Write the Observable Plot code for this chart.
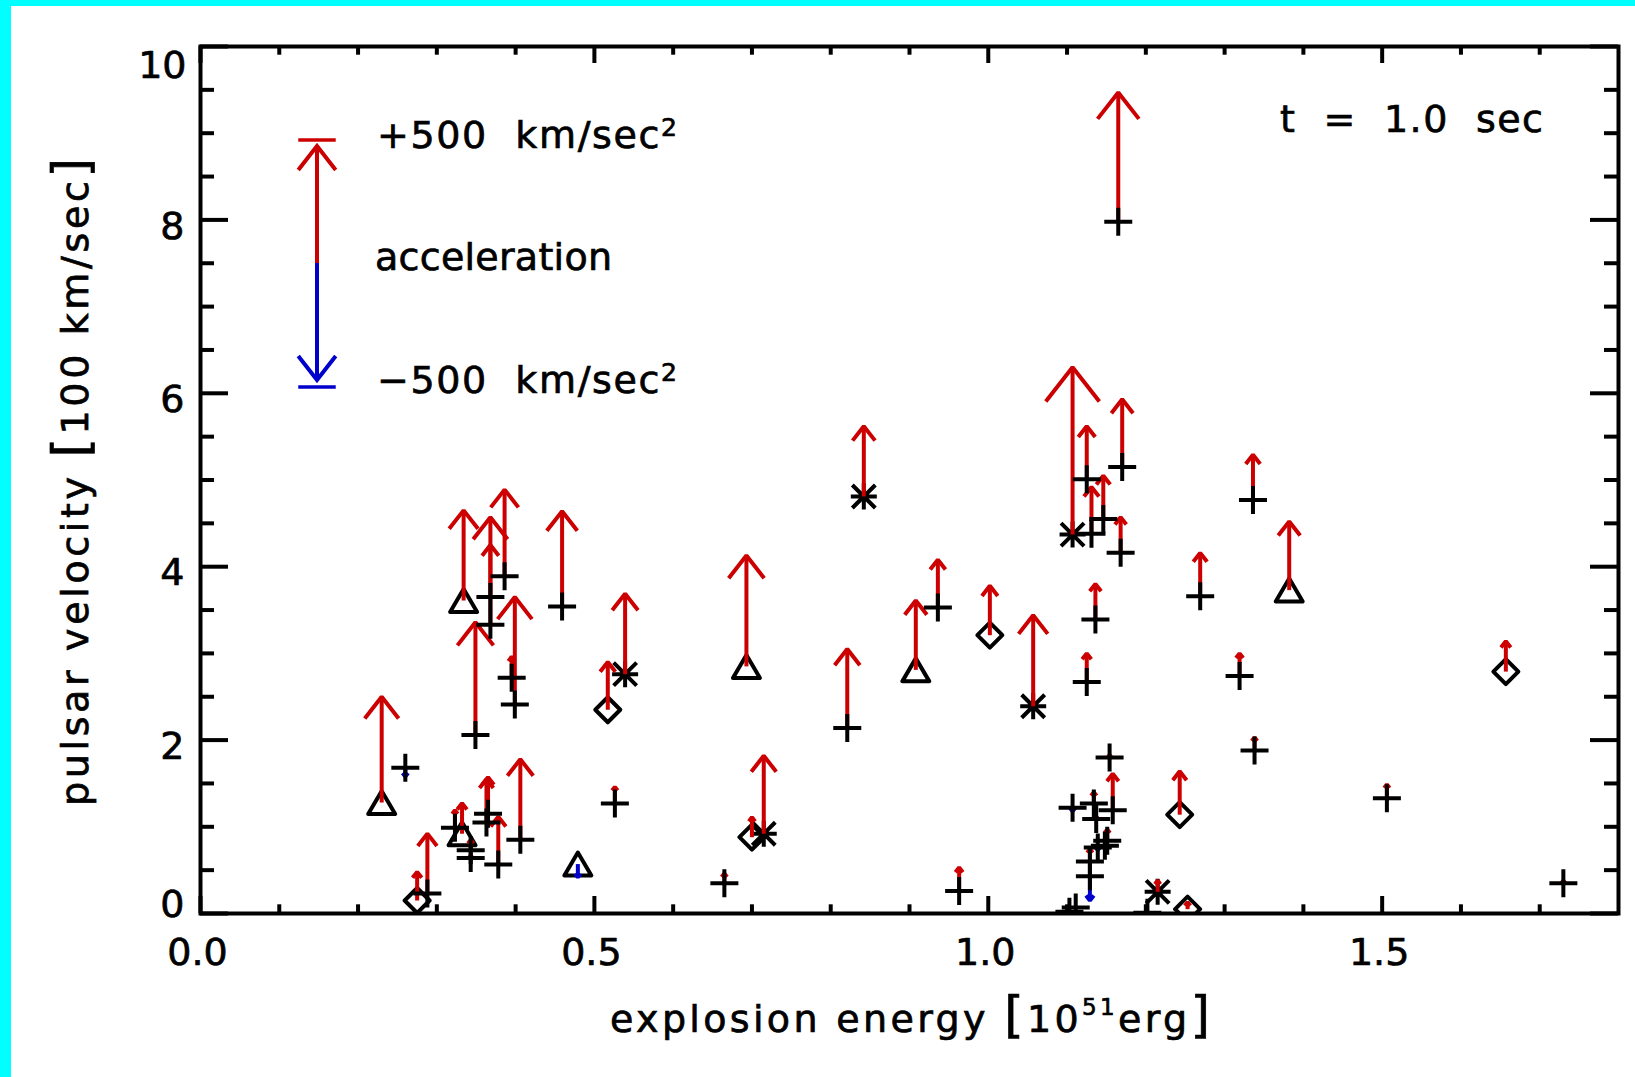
<!DOCTYPE html>
<html>
<head>
<meta charset="utf-8">
<script src="https://cdn.jsdelivr.net/npm/d3@7"></script>
<script src="https://cdn.jsdelivr.net/npm/@observablehq/plot@0.6"></script>
<style>
html, body { margin: 0; padding: 0; background: #fff; }
#wrap { position: relative; width: 1635px; height: 1077px; overflow: hidden; background: #fff; }
#wrap svg { position: absolute; left: 0; top: 0; }
.cy { position: absolute; background: #00ffff; }
text { white-space: pre; }
</style>
</head>
<body>
<div id="wrap"></div>
<script>
// ---------------- data ----------------
// explosion energy [1e51 erg], pulsar velocity [100 km/s], acceleration [km/s^2]
const triE = [0.230, 0.334, 0.332, 0.479, 0.693, 0.908, 1.382];
const triV = [1.28, 3.61, 0.92, 0.57, 2.85, 2.81, 3.73];
const triA = [452, 385, 130, -56, 474, 296, 293];

const diaE = [0.275, 0.517, 0.700, 1.002, 1.243, 1.253, 1.657];
const diaV = [0.15, 2.35, 0.88, 3.21, 1.14, 0.05, 2.79];
const diaA = [122, 204, 85, 211, 185, 30, 130];

const astE = [0.539, 0.715, 0.842, 1.057, 1.107, 1.215];
const astV = [2.76, 0.92, 4.81, 2.39, 4.37, 0.25];
const astA = [344, 333, 300, 389, 715, 48];

const plusE = [0.260, 0.288, 0.323, 0.343, 0.343, 0.349, 0.368, 0.368, 0.386, 0.363,
               0.365, 0.378, 0.406, 0.395, 0.399, 0.459, 0.526, 0.665, 0.821, 0.936,
               0.963, 1.165, 1.125, 1.131, 1.146, 1.170, 1.168, 1.136, 1.125, 1.269,
               1.336, 1.319, 1.338, 1.506, 1.730, 1.154, 1.158, 1.107, 1.134, 1.137,
               1.151, 1.148, 1.139, 1.129, 1.129, 1.111, 1.103, 1.202];
const plusV = [1.68, 0.23, 0.99, 0.73, 0.64, 2.06, 3.65, 3.33, 3.89, 1.05,
               1.15, 0.565, 0.85, 2.72, 2.41, 3.54, 1.27, 0.35, 2.14, 3.53,
               0.26, 7.98, 5.01, 4.38, 4.55, 5.15, 4.16, 3.39, 2.67, 3.66,
               4.77, 2.74, 1.88, 1.33, 0.35, 1.80, 1.19, 1.22, 1.27, 1.09,
               0.84, 0.78, 0.76, 0.60, 0.43, 0.07, 0.02, 0.01];
const plusA = [-37, 256, 74, 44, 11, 481, 222, 459, 370, 185,
               156, 204, 344, 89, 459, 407, 70, 41, 337, 204,
               100, 552, 226, 200, 185, 289, 152, 152, 122, 185,
               193, 96, 56, 59, 11, 11, 156, -15, 48, 11,
               48, 7, -11, 52, -104, 0, 0, 0];

const xDomain = [0, 1.8];
const yDomain = [0, 10];
const xMajor = [0, 0.5, 1.0, 1.5];
const xTickLabels = ["0.0", "0.5", "1.0", "1.5"];
const xMinor = [0.1,0.2,0.3,0.4,0.6,0.7,0.8,0.9,1.1,1.2,1.3,1.4,1.6,1.7];
const yMajor = [0, 2, 4, 6, 8, 10];
const yTickLabels = ["0", "2", "4", "6", "8", "10"];
const yMinor = [0.5,1,1.5,2.5,3,3.5,4.5,5,5.5,6.5,7,7.5,8.5,9,9.5];

const ACC_REF = 500;    // km/s^2 shown by the legend arrow
const ACC_LEN = 1.35;   // velocity units that 500 km/s^2 spans

// ---------------- layout ----------------
const W = 1635, H = 1077, mL = 200, mR = 17, mT = 46, mB = 164;
const pw = W - mL - mR, ph = H - mT - mB;
const kx = pw / (xDomain[1] - xDomain[0]);
const ky = ph / (yDomain[1] - yDomain[0]);
const RED = "#cc0000", BLUE = "#0000cc";
const FONT = "DejaVu Sans";
const HEAD = 0.26, ANG = 38 * Math.PI / 180, MINWING = 4.5;
const SW = 4;
const TXT_STROKE = 0.7;

const rows = (E, V, A) => E.map((e, i) => ({e, v: V[i], a: A[i]}));
const tri = rows(triE, triV, triA);
const dia = rows(diaE, diaV, diaA);
const ast = rows(astE, astV, astA);
const plus = rows(plusE, plusV, plusA);
const all = [...tri, ...dia, ...ast, ...plus];

const dvOf = d => d.a / ACC_REF * ACC_LEN;
const tipOf = d => d.v + dvOf(d);

function heads(list) {
  const out = [];
  list.forEach((d, k) => {
    const dv = dvOf(d), t = d.v + dv;
    const L = Math.max(MINWING, HEAD * Math.abs(dv) * ky);
    const dx = L * Math.sin(ANG) / kx, dy = Math.sign(dv) * L * Math.cos(ANG) / ky;
    out.push({id: k, e: d.e - dx, v: t - dy}, {id: k, e: d.e, v: t}, {id: k, e: d.e + dx, v: t - dy});
  });
  return out;
}
const pos = all.filter(d => d.a > 0);
const neg = all.filter(d => d.a < 0);

// symbols (IDL-like)
const sc = s => Math.sqrt(s / Math.PI) / 13;
const symPlus = {draw(c, s) { const k = sc(s), r = 14 * k; c.moveTo(-r, 0); c.lineTo(r, 0); c.moveTo(0, -r); c.lineTo(0, r); }};
const symTri = {draw(c, s) { const k = sc(s), w = 13.5 * k, h = 11.5 * k; c.moveTo(0, -h); c.lineTo(w, h); c.lineTo(-w, h); c.closePath(); }};
const symDia = {draw(c, s) { const k = sc(s), r = 12.5 * k; c.moveTo(0, -r); c.lineTo(r, 0); c.lineTo(0, r); c.lineTo(-r, 0); c.closePath(); }};
const symAst = {draw(c, s) { const k = sc(s), r = 13 * k, q = 11.5 * k;
  c.moveTo(-r, 0); c.lineTo(r, 0); c.moveTo(0, -r); c.lineTo(0, r);
  c.moveTo(-q, -q); c.lineTo(q, q); c.moveTo(-q, q); c.lineTo(q, -q); }};

const dotOpts = sym => ({x: "e", y: "v", symbol: sym, r: 13, stroke: "black", strokeWidth: SW, fill: "none", clip: true});
const arrowMarks = (list, col) => [
  Plot.link(list, {x1: "e", y1: "v", x2: "e", y2: tipOf, stroke: col, strokeWidth: SW, strokeLinecap: "butt"}),
  Plot.line(heads(list), {x: "e", y: "v", z: "id", stroke: col, strokeWidth: SW, strokeLinecap: "butt", strokeLinejoin: "miter", curve: "linear"})
];
const lbl = {fontSize: 38, fill: "black", fontFamily: FONT, stroke: "black", strokeWidth: TXT_STROKE};

const chart = Plot.plot({
  width: W, height: H,
  marginLeft: mL, marginRight: mR, marginTop: mT, marginBottom: mB,
  style: {fontFamily: FONT, background: "transparent", overflow: "visible"},
  x: {domain: xDomain, axis: null},
  y: {domain: yDomain, axis: null},
  marks: [
    Plot.dot(tri, {...dotOpts(symTri), strokeLinejoin: "round"}),
    Plot.dot(dia, {...dotOpts(symDia), strokeLinejoin: "round"}),
    Plot.dot(ast, {...dotOpts(symAst), strokeLinecap: "butt"}),
    ...arrowMarks(pos, RED),
    ...arrowMarks(neg, BLUE),
    Plot.dot(plus, {...dotOpts(symPlus), strokeLinecap: "butt"}),
    // frame and inward ticks on all four sides
    Plot.frame({stroke: "black", strokeWidth: SW}),
    Plot.tickX(xMinor, {x: d => d, insetTop: ph - 8.7, stroke: "black", strokeWidth: SW}),
    Plot.tickX(xMinor, {x: d => d, insetBottom: ph - 8.7, stroke: "black", strokeWidth: SW}),
    Plot.tickX(xMajor, {x: d => d, insetTop: ph - 17, stroke: "black", strokeWidth: SW}),
    Plot.tickX(xMajor, {x: d => d, insetBottom: ph - 17, stroke: "black", strokeWidth: SW}),
    Plot.tickY(yMinor, {y: d => d, insetRight: pw - 14, stroke: "black", strokeWidth: SW}),
    Plot.tickY(yMinor, {y: d => d, insetLeft: pw - 14, stroke: "black", strokeWidth: SW}),
    Plot.tickY(yMajor, {y: d => d, insetRight: pw - 28, stroke: "black", strokeWidth: SW}),
    Plot.tickY(yMajor, {y: d => d, insetLeft: pw - 28, stroke: "black", strokeWidth: SW}),
    // tick labels
    Plot.text(xMajor, {x: d => d, text: (d, i) => xTickLabels[i], frameAnchor: "bottom", dy: 51, dx: -3, ...lbl}),
    Plot.text(yMajor.slice(1, -1), {y: d => d, text: (d, i) => yTickLabels[i + 1], frameAnchor: "left", textAnchor: "end", dx: -16, dy: 6.5, ...lbl}),
    Plot.text(yMajor.slice(-1), {y: d => d, text: () => yTickLabels[yTickLabels.length - 1], frameAnchor: "left", textAnchor: "end", dx: -14, dy: 19.5, ...lbl}),
    Plot.text(yMajor.slice(0, 1), {y: d => d, text: () => yTickLabels[0], frameAnchor: "left", textAnchor: "end", dx: -16, dy: -9, ...lbl})
  ]
});

const wrap = document.getElementById("wrap");
wrap.appendChild(chart);
const svg = d3.select(chart);

function addText(x, y, parts, opts = {}) {
  const t = svg.append("text")
    .attr("x", x).attr("y", y)
    .attr("font-family", FONT).attr("font-size", 38).attr("fill", "black")
    .attr("stroke", "black").attr("stroke-width", TXT_STROKE)
    .attr("xml:space", "preserve")
    .attr("text-anchor", opts.anchor || "start");
  if (opts.transform) t.attr("transform", opts.transform);
  if (opts.len) t.attr("textLength", opts.len).attr("lengthAdjust", "spacing");
  parts.forEach(p => {
    const s = t.append("tspan").text(p.t);
    if (p.fs) s.attr("font-size", p.fs);
    if (p.dy) s.attr("dy", p.dy);
  });
  return t;
}

// axis titles
addText(0, 0, [{t: "pulsar velocity "}, {t: "[", fs: 50}, {t: "100 km/sec"}, {t: "]", fs: 50}],
  {anchor: "middle", transform: "translate(88,482) rotate(-90)", len: 648});
addText(910, 1032, [{t: "explosion energy "}, {t: "[", fs: 50}, {t: "10"}, {t: "51", fs: 23, dy: -17}, {t: "erg", fs: 38, dy: 17}, {t: "]", fs: 50}],
  {anchor: "middle", len: 600});

// time stamp
addText(1280, 132, [{t: "t  =  1.0  sec"}], {len: 263});

// legend
const LX = 317, LMID = 263, LL = ACC_LEN * ky;
const hl = HEAD * LL, hx = hl * Math.sin(ANG), hy = hl * Math.cos(ANG);
const lg = svg.append("g").attr("fill", "none").attr("stroke-width", SW);
lg.append("line").attr("x1", LX).attr("x2", LX).attr("y1", LMID).attr("y2", LMID - LL).attr("stroke", RED);
lg.append("path").attr("d", `M${LX - hx},${LMID - LL + hy}L${LX},${LMID - LL}L${LX + hx},${LMID - LL + hy}`).attr("stroke", RED).attr("stroke-linejoin", "miter");
lg.append("line").attr("x1", LX - hx).attr("x2", LX + hx).attr("y1", LMID - LL - 6).attr("y2", LMID - LL - 6).attr("stroke", RED).attr("stroke-width", 3.5);
lg.append("line").attr("x1", LX).attr("x2", LX).attr("y1", LMID).attr("y2", LMID + LL).attr("stroke", BLUE);
lg.append("path").attr("d", `M${LX - hx},${LMID + LL - hy}L${LX},${LMID + LL}L${LX + hx},${LMID + LL - hy}`).attr("stroke", BLUE).attr("stroke-linejoin", "miter");
lg.append("line").attr("x1", LX - hx).attr("x2", LX + hx).attr("y1", LMID + LL + 7).attr("y2", LMID + LL + 7).attr("stroke", BLUE).attr("stroke-width", 3.5);

addText(377, 148, [{t: "+500  km/sec"}, {t: "2", fs: 25, dy: -12}], {len: 300});
addText(375, 270, [{t: "acceleration"}], {len: 237});
addText(377, 393, [{t: "\u2212500  km/sec"}, {t: "2", fs: 25, dy: -12}], {len: 300});

// cyan border of the original slide
const bandTop = document.createElement("div"); bandTop.className = "cy";
bandTop.style.cssText = "left:0;top:0;width:1635px;height:6px;";
const bandLeft = document.createElement("div"); bandLeft.className = "cy";
bandLeft.style.cssText = "left:0;top:0;width:11px;height:1077px;";
wrap.appendChild(bandTop); wrap.appendChild(bandLeft);
</script>
</body>
</html>
